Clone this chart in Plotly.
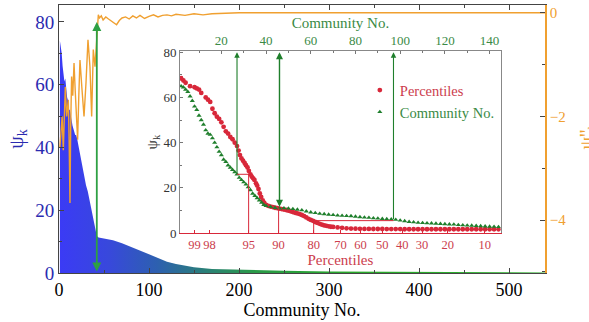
import numpy as np
import plotly.graph_objects as go

# ---------------- data ----------------
AREA_C = [1,2,3,4,5,6,7,8,9,10,11,12,13,14,15,16,17,18,19,20,
          22,24,26,28,30,32,34,36,38,40,42,44,
          50,55,60,70,80,90,100,110,120,130,140,150,
          170,200,250,300,350,400,450,500,540]
AREA_PSI = [74,72,70,66,64,61,62,58,56,55,52,52,50,48,47,46,45,44,44,43,
            40,37,33,30,28,26,23,21,17,14,11.8,11.3,
            11,10.8,10.4,9.5,8.4,7.2,6,4.8,3.6,2.9,2.3,1.8,
            1.3,1.0,0.7,0.5,0.4,0.3,0.25,0.2,0.15]

ORANGE_C = [1,2.2,3.5,4.8,6,7,8.5,10.4,11.3,12.2,
            13,14,15.3,16.7,18,18.9,20.7,22,23.3,25.6,
            27.8,30,32.2,34.4,36.3,38.1,40,41.9,43.7,45,
            47,49,52,55,58,61,64,67,70,74,
            78,82,86,90,95,100,105,110,115,120,
            125,130,140,150,160,170,180,200,220,250,
            300,400,540]
ORANGE_V = [-2.59,-2.2,-2.0,-2.65,-1.8,-1.43,-2.0,-1.68,-2.5,-3.67,
            -2.2,-1.23,-1.6,-0.97,-1.5,-1.87,-2.45,-1.6,-0.91,-1.49,
            -2.0,-1.35,-0.52,-1.04,-2.0,-0.71,-1.04,-0.52,-0.04,-0.1,
            -0.06,-0.14,-0.08,-0.12,-0.16,-0.2,-0.23,-0.15,-0.1,-0.08,
            -0.12,-0.06,-0.1,-0.05,-0.11,-0.07,-0.04,-0.08,-0.05,-0.04,
            -0.06,-0.03,-0.05,-0.02,-0.04,-0.02,-0.01,0,0,0,
            0,0,0]
MAIN_MARK_C = 42

# inset: green = psi vs community number
GREEN_C = [2,3,4,5,6,7,8,9,10,11,12,13,14,15,16,17,18,19,20,21,22,23,24,25,26,27,28,29,30,
           31,32,33,34,35,36,37,38,39,40,42,44,46,48,50,52,54,56,58,60,62,64,66,68,70,
           72,74,76,78,80,82,84,86,88,90,92,94,96,98,100,102,104,106,108,110,112,114,116,
           118,120,122,124,126,128,130,132,134,136,138,140,142,144]
GREEN_PSI = [65,64.5,63.5,62.5,60.5,58.5,56,54.5,52,50,48,45.5,44,43.5,42,40,38,36,34.5,32.5,
             31.5,30,29,28,27,26,24.5,23.5,22.5,21.5,20.3,19,17.5,16.5,15.5,14.5,13.5,12.5,12,
             11.6,11.2,10.9,11.0,10.9,10.7,10.4,10.1,9.6,9.2,8.9,8.6,8.4,8.2,8.0,7.8,7.7,7.6,
             7.5,7.3,7.1,6.9,6.8,6.6,6.5,6.3,6.2,6.1,5.9,5.6,5.3,5.0,4.8,4.6,4.5,4.4,4.3,4.2,
             4.1,4.0,3.9,3.8,3.6,3.5,3.4,3.3,3.2,3.1,3.0,2.9,2.8,2.7]

# inset: red = psi vs percentile (x given in inset axis units)
RED_X = [2,3,4,6,8,9,10,11,13,14,15,16,17,18,19,20,21,22,23,24,25,26,27,27.7,28.3,29,29.7,
         30.4,31,31.7,32.3,33,33.6,34.2,34.8,35.5,36,36.6,37.2,37.8,38.5,39.2,40,41,42,43,44,
         45,46,47,48,49,50,51,52,53,54,55,56,57,58,59,60,61,62,63,64,65,66,67,68,69,70,72,74,
         76,78,80,82,84,86,88,90,92,94,96,98,100,102,104,106,108,110,112,114,116,118,120,
         122,124,126,128,130,132,134,136,138,140,142,144]
RED_PSI = [68.5,67.5,66.5,65,64.5,64,63.5,62,60,59,58,55,53,51.5,50.5,49,47,45,44,42.5,41.5,
           40,38.5,36.5,34.5,33,32,31,30,29,27.5,26,25,24.2,23.5,22,21,19.5,17.5,16,14.5,13.3,
           12.5,12,11.7,11.5,11.2,11.0,10.8,10.6,10.4,10.2,9.9,9.6,9.3,9.0,8.7,8.4,8.0,7.5,6.9,
           6.3,5.8,5.4,4.9,4.5,4.1,3.7,3.4,3.2,3.0,2.8,2.7,2.5,2.3,2.1,2.0,1.95,1.9,1.85,1.85,
           1.8,1.8,1.8,1.75,1.75,1.75,1.75,1.7,1.7,1.7,1.7,1.7,1.7,1.7,1.7,1.7,1.7,1.7,
           1.7,1.7,1.7,1.7,1.7,1.7,1.7,1.7,1.7,1.7,1.7,1.7]

PCT_LABELS = [99, 98, 95, 90, 80, 70, 60, 50, 40, 30, 20, 10]
PCT_POS = [8, 14.7, 32.2, 45.6, 61.3, 73.3, 82.2, 92, 100.9, 109.8, 121.3, 137.8]
COMM_TICKS = [20, 40, 60, 80, 100, 120, 140]

MARK_PCT = [95, 90, 80]
MARK_PSI = [26, 11, 5.5]
MARK_COMM = [27, 46, 97]
MARK_BOTH_ENDS = [False, True, False]

# ---------------- styling ----------------
SERIF = "Liberation Serif, Times New Roman, DejaVu Serif, serif"
BLUE_TXT = "#2b2bb0"
ORANGE = "#f0a030"
RED = "#d8283a"
RED_TXT = "#cc3d4d"
GREEN = "#1f7f2c"
GREEN_TXT = "#3a8a45"
MAIN_GREEN = "#2ea043"

def pct_to_pos(p):
    return float(np.interp(-p, [-v for v in PCT_LABELS], PCT_POS))

fig = go.Figure()

fig.add_trace(go.Scatter(
    x=AREA_C, y=AREA_PSI, mode="lines", fill="tozeroy",
    line=dict(width=0.5, color="rgba(0,0,0,0)"),
    fillgradient=dict(type="horizontal",
                      colorscale=[[0, "#3b3bf5"], [0.1, "#3848dc"], [0.2, "#2d60b0"],
                                  [0.3, "#2a8078"], [0.4, "#2a9a48"], [0.6, "#28a82a"],
                                  [1, "#30b030"]]),
    showlegend=False, hoverinfo="skip", xaxis="x", yaxis="y"))

fig.add_trace(go.Scatter(
    x=ORANGE_C, y=ORANGE_V, mode="lines", line=dict(color=ORANGE, width=1.4),
    showlegend=False, xaxis="x", yaxis="y2"))

fig.add_trace(go.Scatter(
    x=RED_X, y=RED_PSI, mode="markers",
    marker=dict(symbol="circle", size=4.8, color=RED),
    name='<span style="color:%s">Percentiles</span>' % RED_TXT,
    xaxis="x2", yaxis="y3"))

fig.add_trace(go.Scatter(
    x=GREEN_C, y=GREEN_PSI, mode="markers",
    marker=dict(symbol="triangle-up", size=4.5, color=GREEN),
    name='<span style="color:%s">Community No.</span>' % GREEN_TXT,
    xaxis="x2", yaxis="y3"))

# invisible trace to activate top axis of inset
fig.add_trace(go.Scatter(x=[COMM_TICKS[0]], y=[None], mode="markers",
                         showlegend=False, xaxis="x3", yaxis="y3"))

annotations = []
shapes = []

# main arrow
annotations.append(dict(x=MAIN_MARK_C, y=80, ax=MAIN_MARK_C, ay=0,
                        xref="x", yref="y", axref="x", ayref="y",
                        text="", showarrow=True, arrowhead=2, arrowsize=1,
                        arrowwidth=1.8, arrowcolor=MAIN_GREEN, arrowside="end+start"))

for p, psi, c, both in zip(MARK_PCT, MARK_PSI, MARK_COMM, MARK_BOTH_ENDS):
    xp = pct_to_pos(p)
    shapes.append(dict(type="line", xref="x2", yref="y3", x0=xp, x1=xp, y0=0, y1=psi,
                       line=dict(color=RED, width=1)))
    shapes.append(dict(type="line", xref="x2", yref="y3", x0=min(xp, c), x1=max(xp, c),
                       y0=psi, y1=psi, line=dict(color=RED, width=1)))
    annotations.append(dict(x=c, y=80, ax=c, ay=psi,
                            xref="x2", yref="y3", axref="x2", ayref="y3",
                            text="", showarrow=True, arrowhead=2, arrowsize=1,
                            arrowwidth=1.4 if both else 1.1, arrowcolor=GREEN,
                            arrowside="end+start" if both else "end"))

# right axis title (clipped at edge like the reference)
annotations.append(dict(xref="paper", yref="paper", x=1.059, y=0.51,
                        text="ψ''<sub>k</sub>", showarrow=False, textangle=-90,
                        xanchor="left", yanchor="middle",
                        font=dict(family=SERIF, size=20, color=ORANGE)))

inset_x = [0.249, 0.909]
inset_y = [0.149, 0.828]

fig.update_layout(
    width=589, height=322,
    margin=dict(l=59, r=44, t=5, b=49, autoexpand=False),
    paper_bgcolor="white", plot_bgcolor="white",
    font=dict(family=SERIF, size=16, color="black"),
    xaxis=dict(domain=[0, 1], range=[0, 540], anchor="y", automargin=False,
               tickvals=[0, 100, 200, 300, 400, 500], ticks="inside", ticklen=5,
               minor=dict(ticks="inside", ticklen=3, dtick=50),
               showline=True, linecolor="#444", linewidth=1, mirror="ticks",
               showgrid=False, zeroline=False,
               tickfont=dict(family=SERIF, size=18, color="black"),
               title=dict(text="Community No.", standoff=2,
                          font=dict(family=SERIF, size=18, color="black"))),
    yaxis=dict(domain=[0, 1], range=[0, 85.4], anchor="x", automargin=False,
               tickvals=[0, 20, 40, 60, 80], ticks="inside", ticklen=5,
               minor=dict(ticks="inside", ticklen=3, dtick=10),
               showline=True, linecolor="#444", linewidth=1,
               showgrid=False, zeroline=False,
               tickfont=dict(family=SERIF, size=19, color=BLUE_TXT),
               title=dict(text="ψ<sub>k</sub>", standoff=6,
                          font=dict(family=SERIF, size=20, color=BLUE_TXT))),
    yaxis2=dict(overlaying="y", side="right", anchor="x", range=[-5.02, 0.15],
                automargin=False,
                tickvals=[0, -2, -4], ticks="inside", ticklen=5,
                minor=dict(ticks="inside", ticklen=3, tickvals=[-1, -3, -5]),
                showline=True, linecolor=ORANGE, linewidth=1.5,
                showgrid=False, zeroline=False,
                tickfont=dict(family=SERIF, size=15, color=ORANGE)),
    xaxis2=dict(domain=inset_x, anchor="y3", range=[1.5, 145], automargin=False,
                tickvals=PCT_POS, ticktext=[str(v) for v in PCT_LABELS],
                tickangle=0,
                ticks="inside", ticklen=3, tickcolor=RED,
                showline=True, linecolor=RED, linewidth=1,
                showgrid=False, zeroline=False,
                tickfont=dict(family=SERIF, size=12.5, color=RED_TXT),
                title=dict(text="Percentiles", standoff=1,
                           font=dict(family=SERIF, size=15, color=RED_TXT))),
    xaxis3=dict(overlaying="x2", side="top", anchor="y3", range=[1.5, 145],
                automargin=False, tickangle=0,
                tickvals=COMM_TICKS, ticks="inside", ticklen=3, tickcolor="#777",
                minor=dict(ticks="inside", ticklen=2, dtick=10),
                showline=True, linecolor="#888", linewidth=1,
                showgrid=False, zeroline=False,
                tickfont=dict(family=SERIF, size=13, color=GREEN_TXT),
                title=dict(text="Community No.", standoff=0,
                           font=dict(family=SERIF, size=15, color=GREEN_TXT))),
    yaxis3=dict(domain=inset_y, anchor="x2", range=[0, 80.5], automargin=False,
                tickvals=[0, 20, 40, 60, 80], ticks="inside", ticklen=3, tickcolor="#777",
                minor=dict(ticks="inside", ticklen=2, dtick=10),
                showline=True, linecolor="#888", linewidth=1, mirror=True,
                showgrid=False, zeroline=False,
                tickfont=dict(family=SERIF, size=13, color="#333"),
                title=dict(text="ψ<sub>k</sub>", standoff=2,
                           font=dict(family=SERIF, size=15, color="#333"))),
    legend=dict(x=0.619, y=0.742, xanchor="left", yanchor="top",
                bgcolor="rgba(0,0,0,0)", borderwidth=0,
                font=dict(family=SERIF, size=14.5), itemwidth=30,
                tracegroupgap=0),
    annotations=annotations, shapes=shapes,
)

fig.write_html("out.html", config={"displayModeBar": False},
               post_script="document.body.style.margin='0';document.body.style.overflow='hidden';")
